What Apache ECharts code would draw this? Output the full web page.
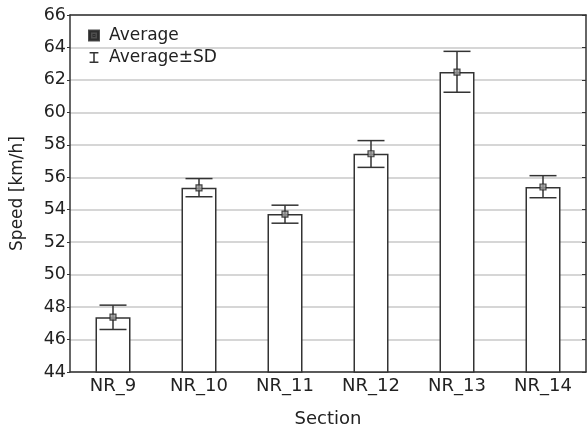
<!DOCTYPE html>
<html>
<head>
<meta charset="utf-8">
<script src="https://cdn.jsdelivr.net/npm/echarts@6/dist/echarts.min.js"></script>
<style>
  html, body { margin: 0; padding: 0; background: #fff; }
  #chart { width: 587px; height: 431px; }
</style>
</head>
<body>
<div id="chart"></div>
<script>
// 数据
const sections = ['NR_9', 'NR_10', 'NR_11', 'NR_12', 'NR_13', 'NR_14'];
const average = [47.38, 55.35, 53.73, 57.45, 62.48, 55.4];
const sdLow = [46.62, 54.8, 53.17, 56.61, 61.24, 54.74];
const sdHigh = [48.12, 55.92, 54.28, 58.26, 63.76, 56.1];
const yTicks = [44, 46, 48, 50, 52, 54, 56, 58, 60, 62, 64, 66];

const textColor = '#222';
const lineColor = '#333';
const font = 'DejaVu Sans';

let chart = echarts.init(document.getElementById('chart'));

let errData = sections.map((s, i) => [i, sdLow[i], sdHigh[i]]);

chart.setOption({
  animation: false,
  backgroundColor: '#fff',
  textStyle: { fontFamily: font },
  grid: { left: 70, right: 1, top: 15, bottom: 59, outerBoundsMode: 'none' },
  legend: {
    orient: 'vertical',
    left: 83,
    top: 22,
    itemWidth: 10,
    itemHeight: 11,
    itemGap: 5,
    textStyle: { fontSize: 17, color: textColor, fontFamily: font, padding: [0, 0, 0, 5] },
    data: [
      { name: 'Average', icon: 'path://M0,0H10V10H0Z M2,2V8H8V2Z M3.5,3.5H6.5V6.5H3.5Z', itemStyle: { color: '#333' } },
      { name: 'Average±SD', icon: 'path://M1,0H9V1.4H5.7V8.6H9V10H1V8.6H4.3V1.4H1Z', itemStyle: { color: '#333' } }
    ]
  },
  xAxis: [
    {
      type: 'category',
      data: sections,
      name: 'Section',
      nameLocation: 'middle',
      nameGap: 38,
      nameTextStyle: { fontSize: 18, color: textColor },
      axisLine: { lineStyle: { color: lineColor, width: 1.5 } },
      axisTick: { alignWithLabel: true, inside: true, length: 4, lineStyle: { color: lineColor } },
      axisLabel: { fontSize: 18, color: textColor, margin: 5 },
      splitLine: { show: false }
    },
    {
      type: 'category',
      data: sections,
      position: 'top',
      axisLine: { show: true, lineStyle: { color: lineColor, width: 1.5 } },
      axisTick: { alignWithLabel: true, inside: true, length: 4, lineStyle: { color: lineColor } },
      axisLabel: { show: false }
    }
  ],
  yAxis: [
    {
      type: 'value',
      min: 44,
      max: 66,
      interval: 2,
      name: 'Speed [km/h]',
      nameLocation: 'middle',
      nameGap: 44,
      nameTextStyle: { fontSize: 17, color: textColor },
      axisLine: { show: true, lineStyle: { color: lineColor, width: 1.5 } },
      axisTick: { show: true, length: 3, lineStyle: { color: lineColor } },
      axisLabel: { fontSize: 17.5, color: textColor, margin: 4 },
      splitLine: { show: true, lineStyle: { color: '#c8c8c8', width: 1.5 } }
    },
    {
      type: 'value',
      min: 44,
      max: 66,
      interval: 2,
      position: 'right',
      axisLine: { show: true, lineStyle: { color: lineColor, width: 1.5 } },
      axisTick: { show: true, inside: true, length: 4, lineStyle: { color: lineColor } },
      axisLabel: { show: false },
      splitLine: { show: false }
    }
  ],
  series: [
    {
      name: 'bars',
      type: 'bar',
      data: average,
      barWidth: 35,
      z: 2,
      itemStyle: { color: '#fff', borderColor: lineColor, borderWidth: 1.5 }
    },
    {
      name: 'Average±SD',
      type: 'custom',
      data: errData,
      z: 3,
      renderItem: function (params, api) {
        let x = api.value(0);
        let lo = api.coord([x, api.value(1)]);
        let hi = api.coord([x, api.value(2)]);
        let half = 13.5;
        let style = { stroke: lineColor, lineWidth: 1.5, fill: null };
        return {
          type: 'group',
          children: [
            { type: 'line', shape: { x1: lo[0], y1: lo[1], x2: hi[0], y2: hi[1] }, style: style },
            { type: 'line', shape: { x1: lo[0] - half, y1: lo[1], x2: lo[0] + half, y2: lo[1] }, style: style },
            { type: 'line', shape: { x1: hi[0] - half, y1: hi[1], x2: hi[0] + half, y2: hi[1] }, style: style }
          ]
        };
      }
    },
    {
      name: 'Average',
      type: 'scatter',
      data: average,
      symbol: 'rect',
      symbolSize: 6,
      z: 4,
      itemStyle: { color: '#999', borderColor: '#222', borderWidth: 1.2 }
    }
  ]
});
</script>
</body>
</html>
